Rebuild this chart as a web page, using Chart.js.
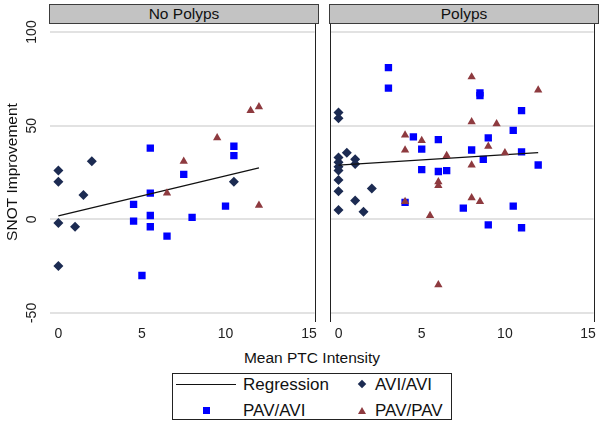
<!DOCTYPE html>
<html>
<head>
<meta charset="utf-8">
<script src="https://cdn.jsdelivr.net/npm/chart.js@4.4.1/dist/chart.umd.min.js"></script>
<style>
  body { margin: 0; width: 601px; height: 424px; background: #fff; position: relative; overflow: hidden;
         font-family: "Liberation Sans", Arial, Helvetica, sans-serif; color: #111; }
  canvas { position: absolute; top: 0; }
  .strip { position: absolute; top: 4px; height: 20px; width: 270px; box-sizing: border-box;
           background: #c3c3c3; border: 1px solid #3c3c3c; text-align: center; font-size: 15.5px; line-height: 17px; }
  #xtitle { position: absolute; left: 212px; top: 349px; width: 200px; text-align: center; font-size: 15.5px; line-height: 18px; }
  #legend { position: absolute; left: 172px; top: 373px; width: 280px; height: 47px; box-sizing: border-box; border: 1px solid #222; }
  #legend .txt { position: absolute; font-size: 17px; line-height: 20px; }
  .mk { position: absolute; }
</style>
</head>
<body>
<canvas id="leftPanel" width="322" height="345" style="left:0px"></canvas>
<canvas id="rightPanel" width="276" height="345" style="left:325px"></canvas>
<div class="strip" style="left:49px">No Polyps</div>
<div class="strip" style="left:329px">Polyps</div>
<div id="xtitle">Mean PTC Intensity</div>
<div id="legend">
  <div class="mk" style="left:3px; top:10px; width:60px; height:0; border-top:1.5px solid #111"></div>
  <div class="txt" style="left:70px; top:1px">Regression</div>
  <div class="mk" style="left:186px; top:7px; width:6px; height:6px; background:#1c2b52; transform:rotate(45deg)"></div>
  <div class="txt" style="left:202px; top:1px">AVI/AVI</div>
  <div class="mk" style="left:30px; top:33px; width:7px; height:7px; background:#0000ff"></div>
  <div class="txt" style="left:70px; top:27px">PAV/AVI</div>
  <div class="mk" style="left:185px; top:33px; width:0; height:0; border-left:4px solid transparent; border-right:4px solid transparent; border-bottom:7px solid #8e3a3f"></div>
  <div class="txt" style="left:202px; top:27px">PAV/PAV</div>
</div>
<script>
// tick labels
const xTicks = [0, 5, 10, 15];
const yTicks = [-50, 0, 50, 100];

// No Polyps panel
const npAviX = [0, 0, 2, 1.5, 10.5, 0, 1, 0];
const npAviY = [26, 20, 31, 13, 20, -2, -4, -25];
const npPavAviX = [5.5, 7.5, 5.5, 10.5, 10.5, 4.5, 5.5, 4.5, 5.5, 6.5, 8, 10, 5];
const npPavAviY = [38, 24, 14, 39, 34, 8, 2, -1, -4, -9, 1, 7, -30];
const npPavPavX = [11.5, 12, 9.5, 7.5, 6.5, 12];
const npPavPavY = [58, 60, 43.5, 31, 14, 7.5];

// Polyps panel
const pAviX = [0, 0, 0.5, 0, 1, 1, 0, 0, 0, 0, 2, 0, 1, 0, 1.5];
const pAviY = [57, 54, 35.5, 33, 32, 29.5, 30.5, 28, 26, 21, 16.5, 15, 10, 5, 4];
const pPavAviX = [3, 3, 8.5, 8.5, 11, 10.5, 4.5, 6, 9, 5, 8, 11, 8.7, 12, 5, 6, 6.5, 4, 7.5, 10.5, 9, 11];
const pPavAviY = [81, 70, 67.5, 66, 58, 47.5, 44, 42.5, 43.5, 37.5, 37, 36, 32, 29, 26.5, 25.5, 26, 9, 6, 7, -3, -4.5];
const pPavPavX = [8, 12, 8, 9.5, 4, 5, 4, 9, 6.5, 10, 8, 6, 6, 8, 8.5, 4, 5.5, 6];
const pPavPavY = [76, 69, 52, 51, 45, 42, 37, 39, 34, 35.5, 29, 20, 18, 11.5, 9.5, 9.5, 2, -35];

// regression lines (end points)
const regX = [0, 12];
const npFitY = [1.8, 27.4];
const pFitY = [28.9, 35.6];

const FONT = '"Liberation Sans", Arial, Helvetica, sans-serif';
const pts = (xs, ys) => xs.map((x, i) => ({ x: x, y: ys[i] }));

// vertical frame lines at the panel edges
const panelEdges = {
  id: 'panelEdges',
  afterDraw(chart, args, opts) {
    const { ctx, chartArea } = chart;
    ctx.save();
    ctx.strokeStyle = '#222';
    ctx.lineWidth = 1;
    ctx.beginPath();
    (opts.sides || []).forEach(side => {
      const x = Math.round(chartArea[side]) + 0.5;
      ctx.moveTo(x, chartArea.top);
      ctx.lineTo(x, chartArea.bottom + 1);
    });
    ctx.stroke();
    ctx.restore();
  }
};

function makePanel(id, aviX, aviY, pavAviX, pavAviY, pavPavX, pavPavY, fitY, showY, sides) {
  const datasets = [
    { label: 'PAV/PAV', data: pts(pavPavX, pavPavY), pointStyle: 'triangle', pointRadius: 4.8,
      backgroundColor: '#8e3a3f', borderWidth: 0, order: 0 },
    { label: 'Regression', data: pts(regX, fitY), showLine: true, pointRadius: 0,
      borderColor: '#111', borderWidth: 1.3, order: 1 },
    { label: 'PAV/AVI', data: pts(pavAviX, pavAviY), pointStyle: 'rect', pointRadius: 5.2,
      backgroundColor: '#0000ff', borderWidth: 0, order: 2 },
    { label: 'AVI/AVI', data: pts(aviX, aviY), pointStyle: 'rectRot', pointRadius: 5,
      backgroundColor: '#1c2b52', borderWidth: 0, order: 3 }
  ];
  return new Chart(document.getElementById(id), {
    type: 'scatter',
    data: { datasets: datasets },
    plugins: [panelEdges],
    options: {
      responsive: false,
      animation: false,
      events: [],
      layout: { padding: { left: showY ? 0 : 4, right: 4, top: 23, bottom: 0 } },
      plugins: {
        legend: { display: false },
        tooltip: { enabled: false },
        panelEdges: { sides: sides }
      },
      scales: {
        x: {
          type: 'linear', min: -0.5, max: 15.33,
          afterBuildTicks: s => { s.ticks = xTicks.map(v => ({ value: v })); },
          afterFit: s => { s.height = 24; },
          grid: { display: false, drawTicks: false },
          border: { display: false },
          ticks: { font: { size: 14, family: FONT }, color: '#222', padding: 5, maxRotation: 0, autoSkip: false }
        },
        y: {
          type: 'linear', min: -54.3, max: 104.8,
          afterBuildTicks: s => { s.ticks = yTicks.map(v => ({ value: v })); },
          afterFit: s => { s.width = showY ? 50 : 0; },
          grid: { color: '#e2e2e2', lineWidth: 2, drawTicks: false },
          border: { display: false },
          ticks: { display: showY, minRotation: 90, maxRotation: 90, crossAlign: 'center', padding: 6,
                   font: { size: 14, family: FONT }, color: '#222' },
          title: { display: showY, text: 'SNOT Improvement', color: '#111',
                   font: { size: 15.5, family: FONT }, padding: { top: 3, bottom: 0 } }
        }
      }
    }
  });
}

makePanel('leftPanel', npAviX, npAviY, npPavAviX, npPavAviY, npPavPavX, npPavPavY, npFitY, true, ['right']);
makePanel('rightPanel', pAviX, pAviY, pPavAviX, pPavAviY, pPavPavX, pPavPavY, pFitY, false, ['left', 'right']);
</script>
</body>
</html>
